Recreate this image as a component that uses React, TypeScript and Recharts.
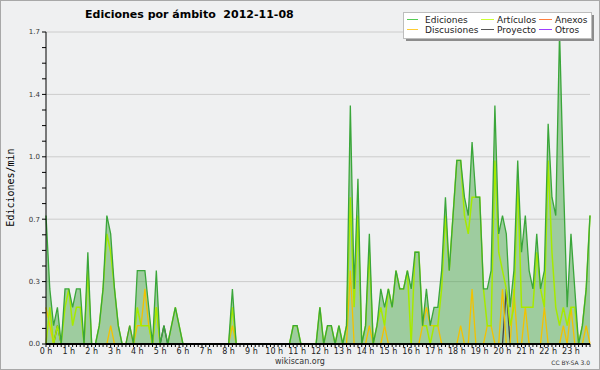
import React from 'react';
import { ComposedChart, Area, Line, XAxis, YAxis, CartesianGrid } from 'recharts';

// 10-minute slots, 144 per day (6 per hour)
const hourLabels = ['0 h','1 h','2 h','3 h','4 h','5 h','6 h','7 h','8 h','9 h','10 h','11 h','12 h','13 h','14 h','15 h','16 h','17 h','18 h','19 h','20 h','21 h','22 h','23 h'];

const ediciones = [
  0.7,0.3,0.1,0.2,0.0,0.3,
  0.3,0.2,0.3,0.3,0.0,0.5,
  0.0,0.0,0.1,0.3,0.7,0.6,
  0.3,0.1,0.0,0.0,0.1,0.0,
  0.4,0.4,0.4,0.2,0.0,0.4,
  0.0,0.1,0.0,0.1,0.2,0.1,
  0,0,0,0,0,0,
  0,0,0,0,0,0,
  0,0.3,0,0,0,0,
  0,0,0,0,0,0,
  0,0,0,0,0,0.1,
  0.1,0,0,0,0,0,
  0.2,0,0.1,0.1,0,0.1,
  0,0.1,1.3,0.3,0.9,0.0,
  0.1,0.6,0.0,0.1,0.3,0.2,
  0.3,0.2,0.4,0.3,0.3,0.4,
  0.3,0.5,0.5,0.1,0.3,0.1,
  0.2,0.2,0.4,0.8,0.4,0.7,
  1.0,1.0,0.8,0.7,1.1,0.8,
  0.8,0.3,0.3,0.4,1.3,0.6,
  0.7,0.6,0.2,0.4,1.0,0.5,
  0.7,0.4,0.3,0.6,0.3,0.4,
  1.2,0.8,0.7,1.7,0.9,0.2,
  0.6,0.3,0.0,0.1,0.3,0.7,
];

const articulos = [
  0.0,0.2,0.0,0.1,0.0,0.2,
  0.3,0.1,0.2,0.2,0.0,0.4,
  0.0,0.0,0.1,0.3,0.6,0.5,
  0.3,0.1,0.0,0.0,0.0,0.0,
  0.2,0.1,0.1,0.1,0.0,0.2,
  0.0,0.0,0.0,0.1,0.2,0.1,
  0,0,0,0,0,0,
  0,0,0,0,0,0,
  0,0.2,0,0,0,0,
  0,0,0,0,0,0,
  0,0,0,0,0,0.1,
  0.1,0,0,0,0,0,
  0.2,0,0.1,0.1,0,0.1,
  0,0.1,0.8,0.2,0.7,0.0,
  0.1,0.5,0.0,0.1,0.2,0.1,
  0.3,0.2,0.4,0.3,0.3,0.4,
  0.0,0.5,0.5,0.1,0.1,0.0,
  0.1,0.1,0.3,0.7,0.4,0.7,
  1.0,1.0,0.7,0.6,0.8,0.8,
  0.8,0.3,0.1,0.1,1.0,0.5,
  0.4,0.3,0.1,0.2,0.9,0.2,
  0.2,0.2,0.2,0.5,0.3,0.2,
  1.0,0.5,0.2,0.1,0.2,0.1,
  0.2,0.2,0.0,0.1,0.3,0.7,
];

const discusiones = [
  0.2,0.1,0,0,0,0,
  0,0,0,0,0,0,
  0,0,0,0,0,0.1,
  0,0,0,0,0.1,0,
  0.1,0.1,0.3,0.1,0,0.2,
  0,0,0,0,0,0,
  0,0,0,0,0,0,
  0,0,0,0,0,0,
  0,0.1,0,0,0,0,
  0,0,0,0,0,0,
  0,0,0,0,0,0,
  0,0,0,0,0,0,
  0,0,0,0,0,0,
  0,0,0.4,0,0,0,
  0,0.1,0,0,0,0.1,
  0,0,0,0,0,0,
  0,0,0,0.1,0.2,0.1,
  0.1,0.1,0,0,0,0,
  0,0.1,0,0,0.3,0,
  0,0,0.1,0.1,0,0,
  0.3,0,0,0.3,0,0,
  0.2,0,0,0,0,0.2,
  0,0,0,0,0.1,0,
  0.2,0,0,0,0.1,0,
];

const proyecto = [
  0,0,0,0.1,0,0,
  0,0,0,0,0,0,
  0,0,0,0,0,0,
  0,0,0,0,0,0,
  0,0,0,0,0,0,
  0,0.1,0,0,0,0,
  0,0,0,0,0,0,
  0,0,0,0,0,0,
  0,0,0,0,0,0,
  0,0,0,0,0,0,
  0,0,0,0,0,0,
  0,0,0,0,0,0,
  0,0,0,0,0,0,
  0,0,0,0,0,0,
  0,0,0,0,0,0,
  0,0,0,0,0,0,
  0,0,0,0,0,0,
  0,0,0,0,0,0,
  0,0,0,0,0,0,
  0,0,0,0,0,0,
  0,0.3,0,0,0,0,
  0,0,0,0,0,0,
  0,0,0,0,0,0,
  0,0,0,0,0,0,
];

const anexos = new Array(144).fill(0);
const otros = new Array(144).fill(0);

const slots = ediciones.map((_, i) => i);
const data = slots.map((i) => ({
  slot: i,
  ed: ediciones[i],
  ar: articulos[i],
  di: discusiones[i],
  pr: proyecto[i],
  an: anexos[i],
  ot: otros[i],
}));

const xTicks = slots;
const yMajor = [0, 0.34, 0.68, 1.02, 1.36, 1.7];
const yTicks = Array.from({ length: 21 }, (_, k) => +(k * 0.085).toFixed(3));

const C = {
  ed: '#3aa63a',
  edFill: '#3ca03c',
  ar: '#a6ea00',
  di: '#f2c200',
  pr: '#444444',
  an: '#ff7f3f',
  ot: '#9f3fff',
};

const FONT = 'DejaVu Sans, Verdana, sans-serif';

export default function App() {
  return (
    <div style={{ position: 'absolute', left: 0, top: 0, width: 600, height: 370, background: '#eff0f1', overflow: 'hidden' }}>
      <ComposedChart width={600} height={370} data={data} margin={{ top: 32, right: 10, left: 16, bottom: 6 }}>
        <CartesianGrid horizontal={true} vertical={false} horizontalValues={yMajor.slice(1)} stroke="#cccccc" strokeWidth={1} />
        <Area type="linear" dataKey="ed" stroke="none" fill={C.edFill} fillOpacity={0.45} isAnimationActive={false} dot={false} activeDot={false} />
        <Line type="linear" dataKey="an" stroke={C.an} strokeWidth={1.3} dot={false} activeDot={false} isAnimationActive={false} />
        <Line type="linear" dataKey="ot" stroke={C.ot} strokeWidth={1.3} dot={false} activeDot={false} isAnimationActive={false} />
        <Line type="linear" dataKey="pr" stroke={C.pr} strokeWidth={1.3} dot={false} activeDot={false} isAnimationActive={false} />
        <Line type="linear" dataKey="di" stroke={C.di} strokeWidth={1.3} dot={false} activeDot={false} isAnimationActive={false} />
        <Line type="linear" dataKey="ar" stroke={C.ar} strokeWidth={1.5} dot={false} activeDot={false} isAnimationActive={false} />
        <Line type="linear" dataKey="ed" stroke={C.ed} strokeWidth={1.3} dot={false} activeDot={false} isAnimationActive={false} />
        <XAxis
          dataKey="slot"
          type="number"
          domain={[0, 143]}
          ticks={xTicks}
          interval={0}
          height={20}
          tickSize={3}
          tickMargin={1}
          axisLine={{ stroke: '#000', strokeWidth: 2 }}
          tickLine={{ stroke: '#000' }}
          tick={{ fontSize: 8, fill: '#222', fontFamily: FONT }}
          tickFormatter={(v: number) => (v % 6 === 0 ? hourLabels[v / 6] : '')}
        />
        <YAxis
          type="number"
          domain={[0, 1.7]}
          ticks={yTicks}
          interval={0}
          width={30}
          tickSize={4}
          tickMargin={2}
          axisLine={{ stroke: '#000' }}
          tickLine={{ stroke: '#000' }}
          tick={{ fontSize: 7, fill: '#333', fontFamily: FONT }}
          tickFormatter={(v: number) => (yMajor.some((m) => Math.abs(m - v) < 0.001) ? v.toFixed(1) : '')}
        />
      </ComposedChart>
      <svg width={600} height={370} style={{ position: 'absolute', left: 0, top: 0, pointerEvents: 'none' }}>
        <text x={85} y={18} fontFamily={FONT} fontWeight="bold" fontSize={11} fill="#000" xmlSpace="preserve" style={{ whiteSpace: 'pre' }}>{'Ediciones por ámbito  2012-11-08'}</text>
        <text transform="translate(13.5,187.5) rotate(-90)" textAnchor="middle" fontFamily="DejaVu Sans Mono, monospace" fontSize={10} fill="#000">Ediciones/min</text>
        <rect x={406} y={15} width={188} height={26} fill="#8c8c8c" />
        <rect x={403.5} y={12.5} width={188} height={26} fill="#ffffff" stroke="#bdbdbd" />
        <line x1={407} x2={418} y1={19.5} y2={19.5} stroke="#55cc55" strokeWidth={1} />
        <text x={425} y={23} fontFamily={FONT} fontSize={9} fill="#222">Ediciones</text>
        <line x1={407} x2={418} y1={29.5} y2={29.5} stroke="#ffcc33" strokeWidth={1} />
        <text x={425} y={33} fontFamily={FONT} fontSize={9} fill="#222">Discusiones</text>
        <line x1={481} x2={494} y1={19.5} y2={19.5} stroke="#ccff33" strokeWidth={1} />
        <text x={497} y={23} fontFamily={FONT} fontSize={9} fill="#222">Artículos</text>
        <line x1={481} x2={494} y1={29.5} y2={29.5} stroke="#555555" strokeWidth={1} />
        <text x={497} y={33} fontFamily={FONT} fontSize={9} fill="#222">Proyecto</text>
        <line x1={539} x2={552} y1={19.5} y2={19.5} stroke="#ff7f3f" strokeWidth={1} />
        <text x={555} y={23} fontFamily={FONT} fontSize={9} fill="#222">Anexos</text>
        <line x1={539} x2={552} y1={29.5} y2={29.5} stroke="#9f3fff" strokeWidth={1} />
        <text x={555} y={33} fontFamily={FONT} fontSize={9} fill="#222">Otros</text>
        <text x={300} y={364} textAnchor="middle" fontFamily={FONT} fontSize={8} fill="#333">wikiscan.org</text>
        <text x={590} y={365} textAnchor="end" fontFamily={FONT} fontSize={6} fill="#333">CC BY-SA 3.0</text>
        <rect x={0.5} y={0.5} width={599} height={369} fill="none" stroke="#a8a8a8" />
      </svg>
    </div>
  );
}
